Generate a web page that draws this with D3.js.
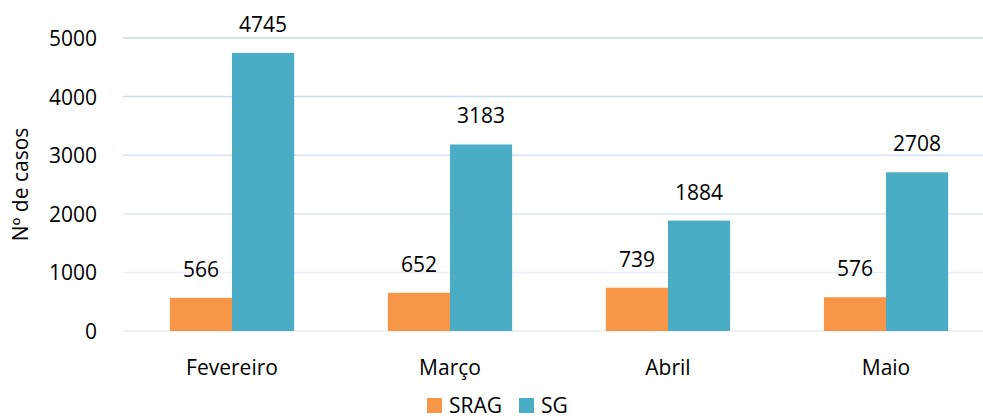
<!DOCTYPE html>
<html>
<head>
<meta charset="utf-8">
<script src="https://cdn.jsdelivr.net/npm/d3@7"></script>
<style>
  html, body { margin: 0; padding: 0; background: #fff; }
  svg { display: block; font-family: "Open Sans", Lato, sans-serif; }
</style>
</head>
<body>
<svg id="chart" width="983" height="420"></svg>
<script>
const categories = ["Fevereiro", "Março", "Abril", "Maio"];
const seriesNames = ["SRAG", "SG"];
const sragValues = [566, 652, 739, 576];
const sgValues = [4745, 3183, 1884, 2708];
const yTicks = [0, 1000, 2000, 3000, 4000, 5000];
const yTitle = "Nº de casos";

const colors = { SRAG: "#F79646", SG: "#4BACC6" };
const FONT = "'Open Sans', Lato, sans-serif";
const FS = 21;
const svg = d3.select("#chart");
const margin = { left: 123, right: -12, top: 38, bottom: 89 };
const W = 983, H = 420;

const x = d3.scaleBand().domain(categories)
  .range([margin.left, W - margin.right])
  .paddingInner(0.43).paddingOuter(0.215);
const xs = d3.scaleBand().domain(seriesNames).range([0, x.bandwidth()]);
const y = d3.scaleLinear().domain([0, 5000]).range([H - margin.bottom, margin.top]);

const gridColor = d3.scaleLinear().domain([0, 1000, 3000, 5000])
  .range(["#e9ebef", "#eaf0f9", "#d6e2f5", "#c3d5f1"]);

// gridlines
svg.append("g").selectAll("line").data(yTicks).join("line")
  .attr("x1", margin.left).attr("x2", W)
  .attr("y1", d => y(d)).attr("y2", d => y(d))
  .attr("stroke", d => gridColor(d)).attr("stroke-width", 1.5);

// y axis
const yAxis = d3.axisLeft(y).tickValues(yTicks).tickSize(0).tickPadding(0).tickFormat(d3.format("d"));
const gy = svg.append("g").attr("transform", `translate(97,0)`).call(yAxis);
gy.select(".domain").remove();
gy.selectAll("text").attr("font-size", FS).attr("fill", "#000")
  .attr("font-family", FONT).attr("dy", "0.36em");

// x axis
const xAxis = d3.axisBottom(x).tickSize(0).tickPadding(0);
const gx = svg.append("g").attr("transform", `translate(0,${y(0)})`).call(xAxis);
gx.select(".domain").remove();
gx.selectAll("text").attr("font-size", FS).attr("fill", "#000")
  .attr("font-family", FONT).attr("dy", null).attr("y", 44);

// data
const rows = categories.map((c, i) => ({ cat: c, SRAG: sragValues[i], SG: sgValues[i] }));
const groups = svg.append("g").selectAll("g").data(rows).join("g")
  .attr("transform", d => `translate(${x(d.cat)},0)`);

groups.selectAll("rect").data(d => seriesNames.map(s => ({ s, v: d[s] }))).join("rect")
  .attr("x", d => xs(d.s)).attr("width", xs.bandwidth())
  .attr("y", d => y(d.v)).attr("height", d => y(0) - y(d.v))
  .attr("fill", d => colors[d.s]);

groups.selectAll("text").data(d => seriesNames.map(s => ({ s, v: d[s] }))).join("text")
  .attr("x", d => xs(d.s) + xs.bandwidth() / 2)
  .attr("y", d => y(d.v) - 21)
  .attr("text-anchor", "middle").attr("font-size", FS).attr("fill", "#000")
  .text(d => d.v);

// y title
svg.append("text")
  .attr("transform", `translate(28,${(y(0) + y(5000)) / 2}) rotate(-90)`)
  .attr("text-anchor", "middle").attr("font-size", FS).attr("fill", "#000")
  .text(yTitle);

// legend
const legend = svg.append("g");
const legendItems = [{ s: "SRAG", x: 427 }, { s: "SG", x: 519 }];
legendItems.forEach(it => {
  legend.append("rect").attr("x", it.x).attr("y", 398).attr("width", 15).attr("height", 15)
    .attr("fill", colors[it.s]);
  legend.append("text").attr("x", it.x + 22).attr("y", 413)
    .attr("font-size", FS).attr("fill", "#000").text(it.s);
});
</script>
</body>
</html>
